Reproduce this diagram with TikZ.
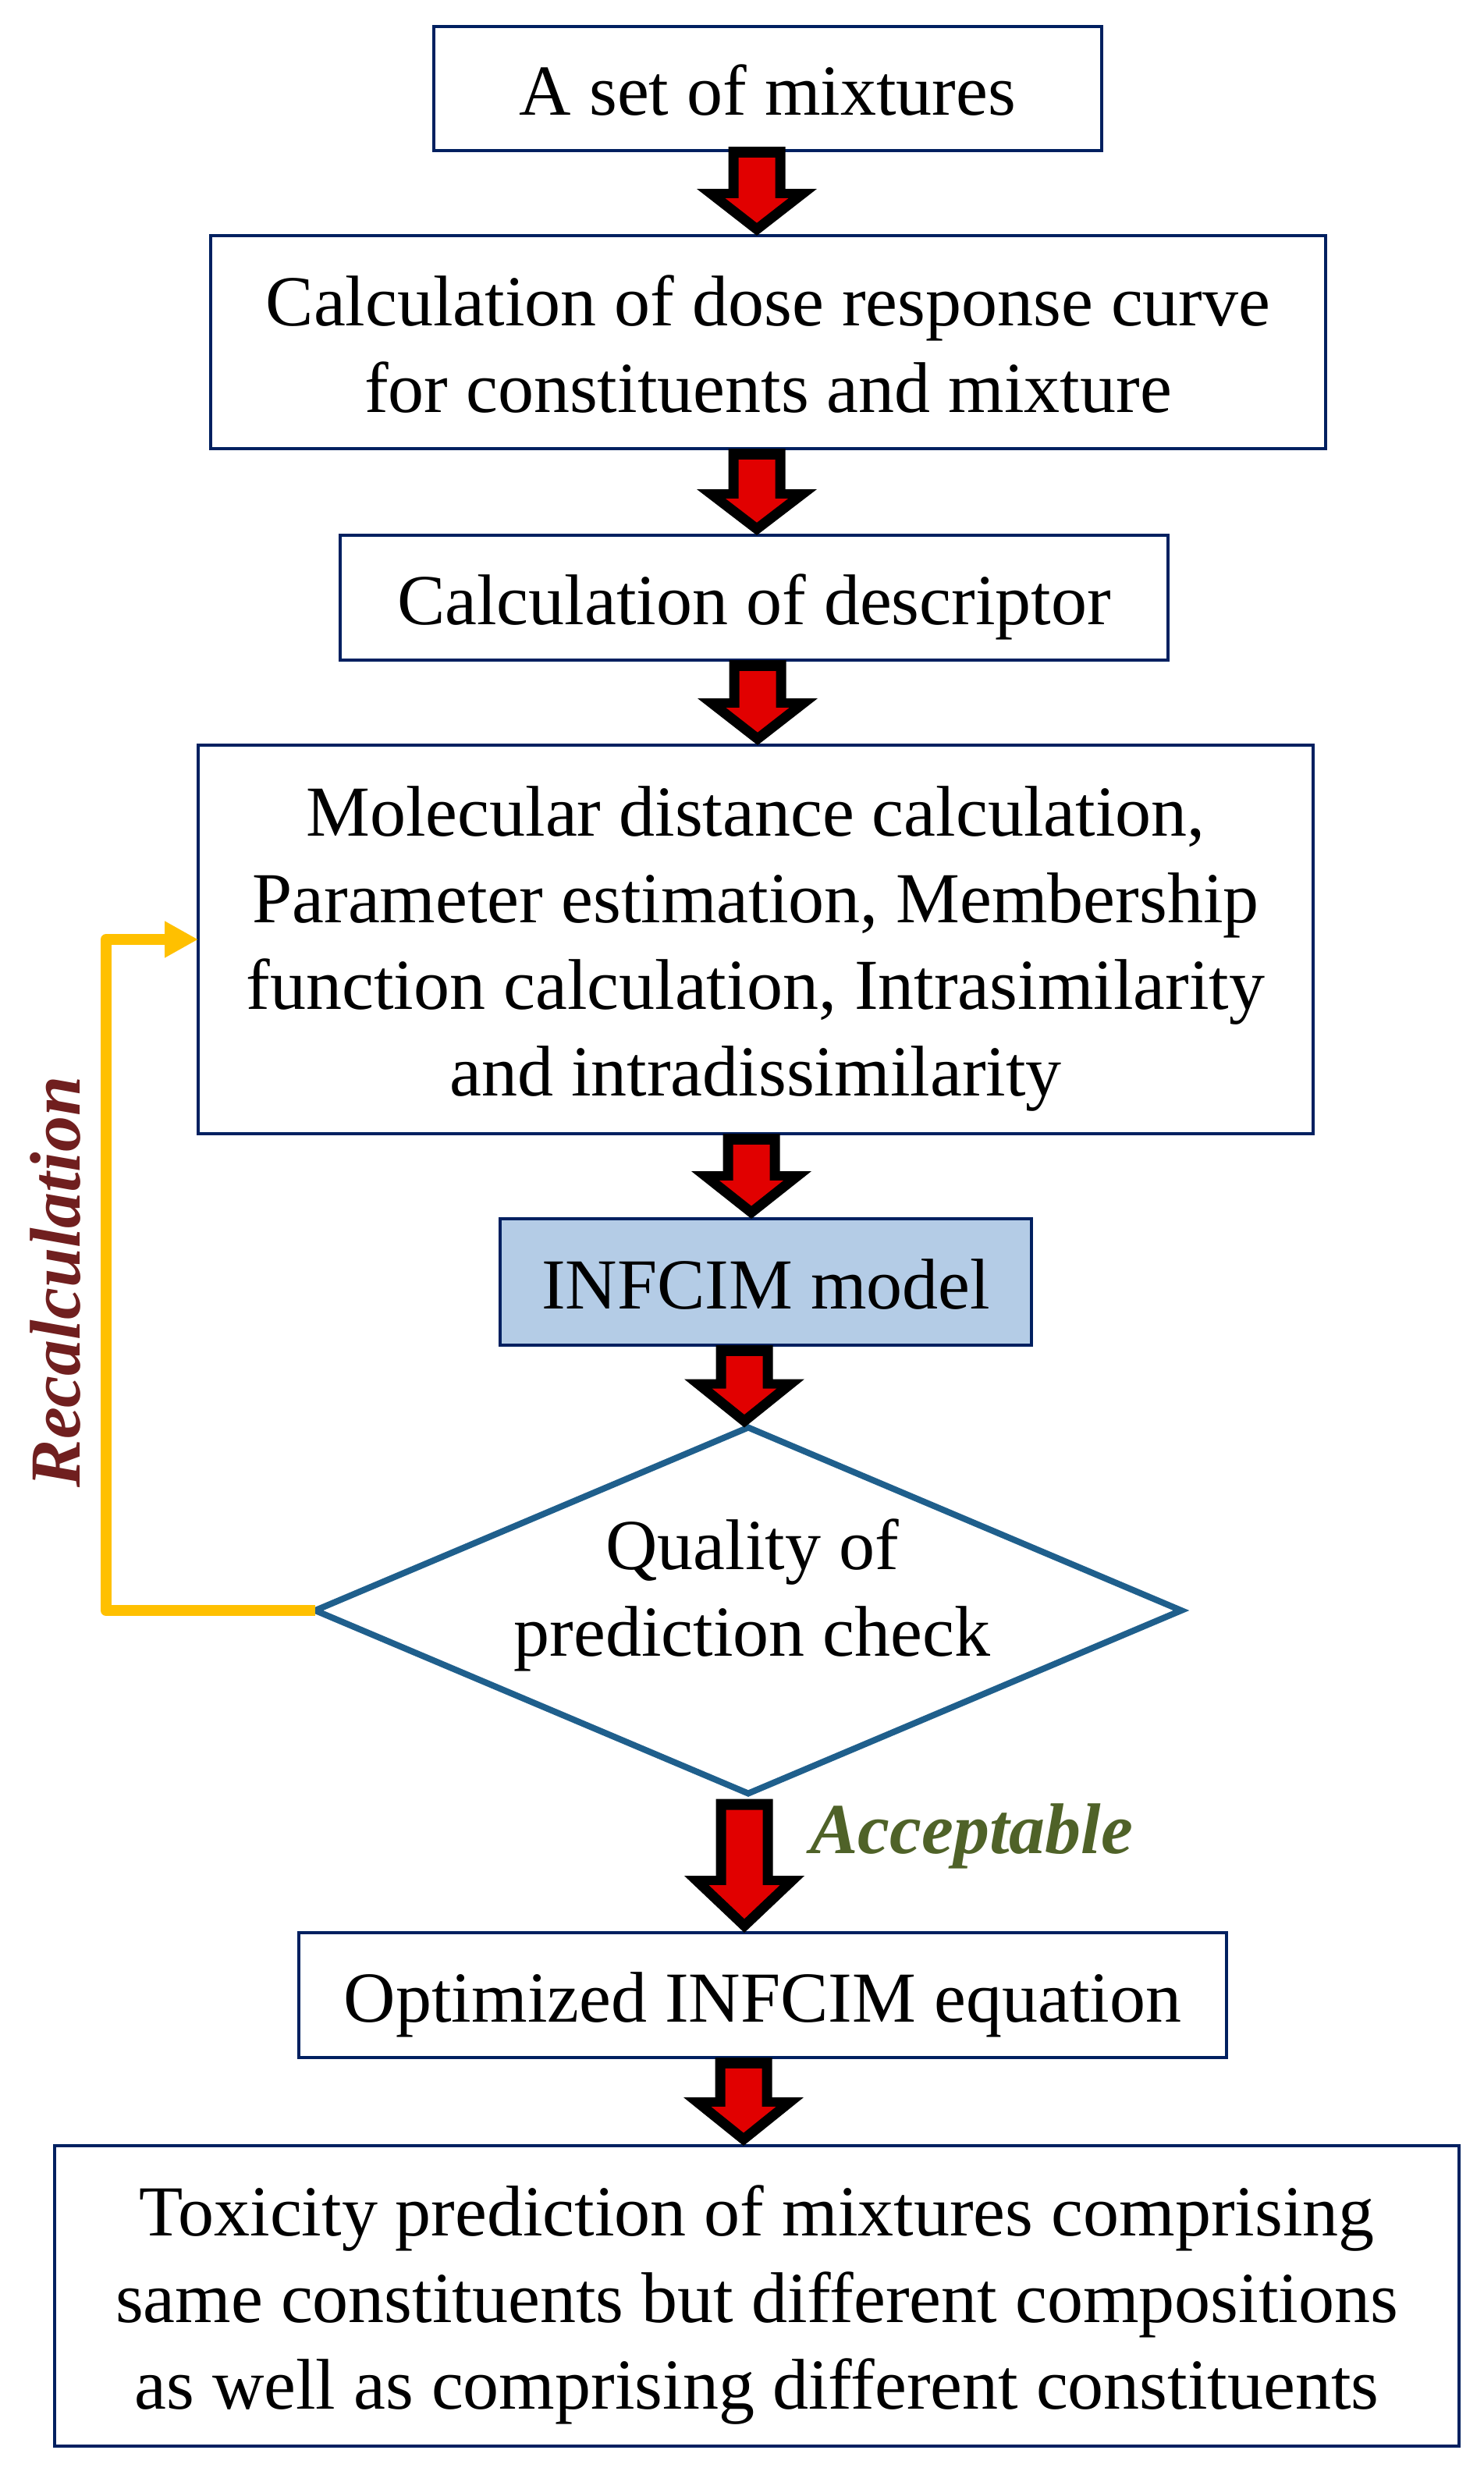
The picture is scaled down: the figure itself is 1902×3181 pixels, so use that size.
\documentclass[tikz,border=0pt]{standalone}
\usepackage{fontspec}
\setmainfont{Liberation Serif}
\usetikzlibrary{shapes.geometric,arrows.meta,calc}
\definecolor{navy}{RGB}{0,32,96}
\definecolor{boxfill}{RGB}{180,204,230}
\definecolor{dblue}{RGB}{31,95,140}
\definecolor{yel}{RGB}{255,192,0}
\definecolor{arrred}{RGB}{225,0,0}
\definecolor{recal}{RGB}{112,31,31}
\definecolor{accgreen}{RGB}{79,98,40}
\newcommand\lstrut{\rule[-20pt]{0pt}{108pt}}
% block arrow: #1 x (pt), #2 source node, #3 target node, #4 head height, #5 start offset
\newcommand\blkarrow[5]{%
  \pgfmathsetmacro\blkt{13*sqrt(1+(#4/77)^2)}%
  \pgfmathsetmacro\blkw{(#4-12-\blkt)*77/#4}%
  \fill[black] let \p1=(#2.south), \p2=(#3.north) in
    (#1pt-36.5pt,\y1+#5*1pt) -- (#1pt+36.5pt,\y1+#5*1pt) -- (#1pt+36.5pt,\y2+#4pt)
    -- (#1pt+77pt,\y2+#4pt) -- (#1pt,\y2) -- (#1pt-77pt,\y2+#4pt) -- (#1pt-36.5pt,\y2+#4pt) -- cycle;
  \fill[arrred] let \p1=(#2.south), \p2=(#3.north) in
    (#1pt-23.5pt,\y1+#5*1pt-14pt) -- (#1pt+23.5pt,\y1+#5*1pt-14pt) -- (#1pt+23.5pt,\y2+#4pt-12pt)
    -- (#1pt+\blkw*1pt,\y2+#4pt-12pt) -- (#1pt,\y2+\blkt*1pt) -- (#1pt-\blkw*1pt,\y2+#4pt-12pt)
    -- (#1pt-23.5pt,\y2+#4pt-12pt) -- cycle;
}
\begin{document}
\begin{tikzpicture}[x=1pt,y=-1pt,
  box/.style={draw=navy, line width=4.5pt, fill=white, inner sep=0pt, outer sep=0pt,
    align=center, font=\fontsize{92}{111}\selectfont},
  decision/.style={diamond, draw=dblue, line width=8pt, fill=white, inner sep=0pt, outer sep=0pt,
    shape aspect=2.37, minimum width=1110pt, minimum height=469pt},
  plain/.style={inner sep=0pt, align=center, font=\fontsize{92}{111}\selectfont},
  lbl/.style={inner sep=0pt, font=\fontsize{92}{111}\selectfont\bfseries\itshape},
  loop/.style={draw=yel, line width=14pt, line join=round, -{Triangle[length=43pt,width=44pt]}}
]
\fill[white] (0,0) rectangle (1902,3181);
\useasboundingbox (0,0) rectangle (1902,3181);

\node[box, minimum width=856pt, minimum height=159pt] (b1) at (984,113.5) {\lstrut A set of mixtures};
\node[box, minimum width=1429pt, minimum height=273pt] (b2) at (984.5,438.5)
  {\lstrut Calculation of dose response curve\\\lstrut for constituents and mixture};
\node[box, minimum width=1061pt, minimum height=160pt] (b3) at (966.5,766) {\lstrut Calculation of descriptor};
\node[box, minimum width=1429pt, minimum height=498pt] (b4) at (968.5,1204)
  {\lstrut Molecular distance calculation,\\\lstrut Parameter estimation, Membership\\\lstrut function calculation, Intrasimilarity\\\lstrut and intradissimilarity};
\node[box, fill=boxfill, minimum width=681pt, minimum height=162pt] (b5) at (981.5,1643) {\lstrut INFCIM model};
\node[decision] (d) at (959,2064) {};
\node[plain] (dt) at (964,2033) {\lstrut Quality of\\\lstrut prediction check};
\node[box, minimum width=1189pt, minimum height=160pt] (b6) at (977.5,2557) {\lstrut Optimized INFCIM equation};
\node[box, minimum width=1800pt, minimum height=385pt] (b7) at (970,2942.5)
  {\lstrut Toxicity prediction of mixtures comprising\\\lstrut same constituents but different compositions\\\lstrut as well as comprising different constituents};

\coordinate (lp) at (136,0);
\draw[loop] (d.west) -- (d.west -| lp) |- (b4.west);

\node[lbl, text=recal, rotate=90, anchor=base] (rl) at (102,1643) {Recalculation};
\node[lbl, text=accgreen, anchor=base west] (acc) at (1038,2375) {Acceptable};

\blkarrow{970}{b1}{b2}{60}{5}
\blkarrow{970}{b2}{b3}{59}{0}
\blkarrow{971}{b3}{b4}{60}{0}
\blkarrow{963}{b4}{b5}{61}{0}
\blkarrow{954}{b5}{d}{62}{0}
\blkarrow{954}{d}{b6}{73}{-7}
\blkarrow{953}{b6}{b7}{62}{0}
\end{tikzpicture}
\end{document}
